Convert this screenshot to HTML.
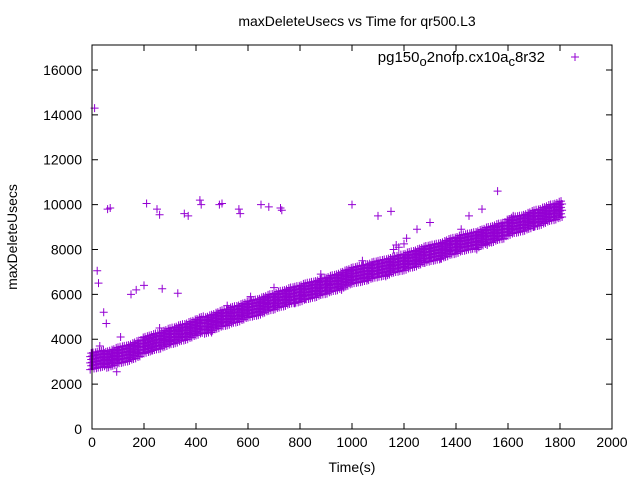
<!DOCTYPE html>
<html><head><meta charset="utf-8"><style>
body{margin:0;background:#fff}
svg{display:block;font-family:"Liberation Sans",sans-serif}
</style></head><body>
<svg id="c" width="640" height="480">
<rect width="640" height="480" fill="#fff"/>
<text x="357" y="26" text-anchor="middle" font-size="14">maxDeleteUsecs vs Time for qr500.L3</text>
<text x="352" y="472" text-anchor="middle" font-size="14">Time(s)</text>
<text transform="translate(17,237) rotate(-90)" text-anchor="middle" font-size="14">maxDeleteUsecs</text>
<g id="ax"></g>
<g id="pts" stroke="#9400d3" stroke-width="1"></g>
<g>
<text x="545" y="62" text-anchor="end" font-size="15">pg150<tspan dy="4" font-size="13">o</tspan><tspan dy="-4">2nofp.cx10a</tspan><tspan dy="4" font-size="13">c</tspan><tspan dy="-4">8r32</tspan></text>
<path d="M571 57h8M575 53v8" stroke="#9400d3"/>
</g>
<rect x="92" y="45" width="520" height="384" fill="none" stroke="#000"/>
</svg>
<script>
const xTicks=[0,200,400,600,800,1000,1200,1400,1600,1800,2000];
const yTicks=[0,2000,4000,6000,8000,10000,12000,14000,16000];
const trendTimes=[0,20,40,60,80,100,120,140,160,180,200,220,240,260,280,300,320,340,360,380,400,420,440,460,480,500,520,540,560,580,600,620,640,660,680,700,720,740,760,780,800,820,840,860,880,900,920,940,960,980,1000,1020,1040,1060,1080,1100,1120,1140,1160,1180,1200,1220,1240,1260,1280,1300,1320,1340,1360,1380,1400,1420,1440,1460,1480,1500,1520,1540,1560,1580,1600,1620,1640,1660,1680,1700,1720,1740,1760,1780,1800];
const trendValues=[3050,3100,3150,3120,3200,3300,3350,3400,3500,3600,3750,3820,3900,3950,4050,4150,4200,4300,4350,4450,4550,4650,4650,4750,4850,4950,5000,5100,5150,5250,5350,5400,5450,5550,5650,5700,5800,5850,5950,6000,6050,6150,6200,6250,6350,6400,6500,6550,6650,6750,6850,6900,6950,7000,7100,7150,7200,7250,7350,7400,7450,7550,7600,7700,7800,7850,7900,7950,8050,8150,8200,8300,8350,8400,8450,8550,8650,8700,8800,8850,9000,9100,9150,9200,9300,9400,9450,9550,9650,9700,9800];
const outTimes=[20,25,45,55,95,60,70,210,250,260,355,370,415,420,490,500,565,570,650,680,725,730,1000,1100,1150,1560,200,150,170,270,330,260,1170,1180,1200,1160,30,10,1250,1300,1450,1500,300,520,700,780,880,960,1040,1130,1210,1340,1420,1520,1620,1700,110,230,460,610,820,1060,1280,1480];
const outValues=[7050,6500,5200,4700,2550,9800,9850,10050,9800,9550,9600,9500,10200,10000,10000,10050,9800,9600,10000,9900,9850,9750,10000,9500,9700,10600,6400,6000,6200,6250,6050,4500,8200,8100,8250,8000,3700,14300,8900,9200,9500,9800,3900,5500,6300,5600,6900,6200,7500,6800,8500,7600,8900,8200,9500,9000,4100,3500,4300,5900,5800,6700,7400,8000];
const X=v=>92+v*520/2000, Y=v=>429-v*384/17112;
const ns="http://www.w3.org/2000/svg";
const ax=document.getElementById('ax'), pts=document.getElementById('pts');
function mk(tag,attrs,parent){const e=document.createElementNS(ns,tag);for(const k in attrs)e.setAttribute(k,attrs[k]);parent.appendChild(e);return e;}
xTicks.forEach(t=>{
  const x=X(t);
  const l=mk('path',{d:`M${x} 429v-6M${x} 45v6`,stroke:'#000'},ax);
  
  
  const tx=mk('text',{x:x,y:447,'text-anchor':'middle','font-size':14},ax);tx.textContent=t;
  
  
});
yTicks.forEach(t=>{
  const y=Y(t);
  const l=mk('path',{d:`M92 ${y}h6M612 ${y}h-6`,stroke:'#000'},ax);
  
  
  const tx=mk('text',{x:82,y:y+5,'text-anchor':'end','font-size':14},ax);tx.textContent=t;
  
  
});
function cross(t,v){
  const x=X(t),y=Y(v);
  const p=mk('path',{d:`M${x-4} ${y}h8M${x} ${y-4}v8`},pts);
  
  
}
const offs=[-380,-220,-80,60,200,340], dts=[-7,-3,0,4,8];
trendTimes.forEach((t,i)=>{
  const v=trendValues[i];
  dts.forEach((d,j)=>{offs.forEach((o,k)=>{if((j+k+i)%2===0)cross(t+d,v+o+d*3.5);});});
});
outTimes.forEach((t,i)=>cross(t,outValues[i]));
</script>
</body></html>
